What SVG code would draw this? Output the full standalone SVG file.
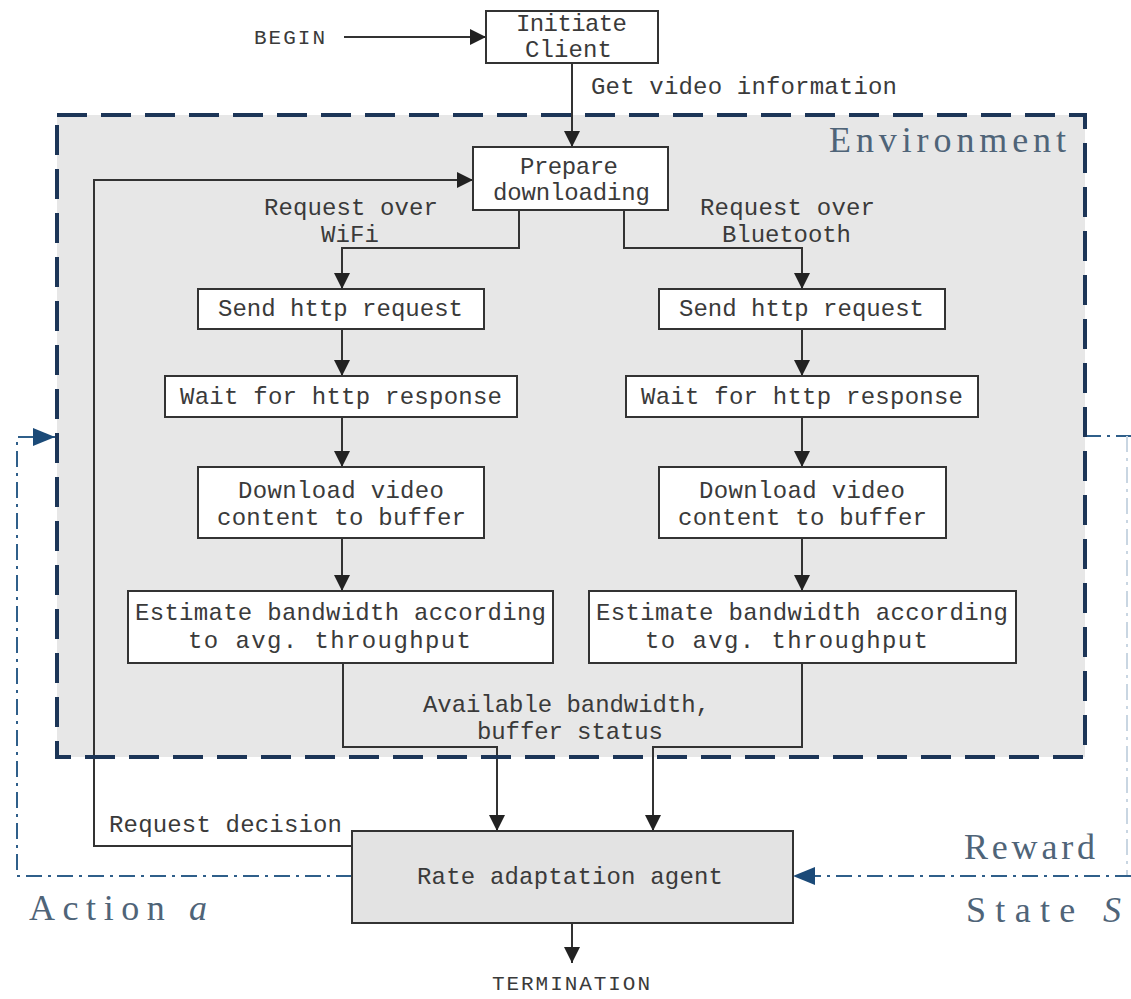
<svg xmlns="http://www.w3.org/2000/svg" width="1131" height="999" viewBox="0 0 1131 999">
<style>
.box{fill:#ffffff;stroke:#333333;stroke-width:2}
.agent{fill:#e3e3e3;stroke:#333333;stroke-width:2}
.t{font-family:"Liberation Mono",monospace;font-size:24px;fill:#3a3a3a}
.s{font-family:"Liberation Mono",monospace;font-size:21px;fill:#3a3a3a}
.big{font-family:"Liberation Serif",serif;font-size:36px;fill:#4f6478}
.ln{fill:none;stroke:#333333;stroke-width:2;marker-end:url(#ah)}
.dd{fill:none;stroke:#2f5f8a;stroke-width:2;stroke-dasharray:16 6 3 6}
</style>
<defs>
<marker id="ah" markerUnits="userSpaceOnUse" markerWidth="16" markerHeight="16" refX="16" refY="8" orient="auto">
<path d="M0,0 L16,8 L0,16 z" fill="#222222"/>
</marker>
<marker id="bh" markerUnits="userSpaceOnUse" markerWidth="22" markerHeight="18" refX="22" refY="9" orient="auto">
<path d="M0,0 L22,9 L0,18 z" fill="#1b4a78"/>
</marker>
</defs>
<rect width="1131" height="999" fill="#ffffff"/>
<g id="environment-fill">
<rect x="57" y="115" width="1028" height="642" fill="#e7e7e7"/>
</g>
<g id="connectors">
<line class="ln" x1="344" y1="37" x2="486" y2="37"/>
<line class="ln" x1="572" y1="63" x2="572" y2="147"/>
<path class="ln" d="M519,210 V248 H342 V289"/>
<path class="ln" d="M624,210 V248 H802 V289"/>
<line class="ln" x1="342" y1="329" x2="342" y2="376"/>
<line class="ln" x1="802" y1="329" x2="802" y2="376"/>
<line class="ln" x1="342" y1="417" x2="342" y2="467"/>
<line class="ln" x1="802" y1="417" x2="802" y2="467"/>
<line class="ln" x1="342" y1="538" x2="342" y2="591"/>
<line class="ln" x1="802" y1="538" x2="802" y2="591"/>
<path class="ln" d="M343,663 V747 H497 V831"/>
<path class="ln" d="M802,663 V747 H653 V831"/>
<line class="ln" x1="572" y1="923" x2="572" y2="963"/>
<path class="ln" d="M352,846 H94 V180 H473"/>
<path class="dd" d="M352,876 H17 V437 H55" marker-end="url(#bh)"/>
<path class="dd" d="M1085,436 H1131"/>
<path fill="none" stroke="#c9d6e2" stroke-width="2" stroke-dasharray="16 6 3 6" d="M1127,436 V876"/>
<path class="dd" d="M1131,876 H793" marker-end="url(#bh)"/>
</g>
<g id="environment-border">
<rect x="57" y="115" width="1028" height="642" fill="none" stroke="#1c3557" stroke-width="4" stroke-dasharray="30 14"/>
<text class="big" x="829" y="152" textLength="237" lengthAdjust="spacing">Environment</text>
</g>
<g id="begin">
<text class="s" x="254" y="44" textLength="71" lengthAdjust="spacing">BEGIN</text>
</g>
<g id="initiate-client">
<rect class="box" x="486" y="11" width="172" height="52"/>
<text class="t" x="516" y="31" textLength="111" lengthAdjust="spacing">Initiate</text>
<text class="t" x="525" y="57" textLength="87" lengthAdjust="spacing">Client</text>
</g>
<g id="label-get-video">
<text class="t" x="591" y="94" textLength="306" lengthAdjust="spacing">Get video information</text>
</g>
<g id="prepare-downloading">
<rect class="box" x="473" y="147" width="195" height="63"/>
<text class="t" x="520" y="174" textLength="98" lengthAdjust="spacing">Prepare</text>
<text class="t" x="493" y="200" textLength="157" lengthAdjust="spacing">downloading</text>
</g>
<g id="label-wifi">
<text class="t" x="264" y="215" textLength="174" lengthAdjust="spacing">Request over</text>
<text class="t" x="321" y="242" textLength="58" lengthAdjust="spacing">WiFi</text>
</g>
<g id="label-bluetooth">
<text class="t" x="700" y="215" textLength="175" lengthAdjust="spacing">Request over</text>
<text class="t" x="722" y="242" textLength="129" lengthAdjust="spacing">Bluetooth</text>
</g>
<g id="send-wifi">
<rect class="box" x="198" y="289" width="286" height="40"/>
<text class="t" x="218" y="316" textLength="245" lengthAdjust="spacing">Send http request</text>
</g>
<g id="send-bt">
<rect class="box" x="659" y="289" width="286" height="40"/>
<text class="t" x="679" y="316" textLength="245" lengthAdjust="spacing">Send http request</text>
</g>
<g id="wait-wifi">
<rect class="box" x="165" y="376" width="352" height="41"/>
<text class="t" x="180" y="404" textLength="322" lengthAdjust="spacing">Wait for http response</text>
</g>
<g id="wait-bt">
<rect class="box" x="626" y="376" width="352" height="41"/>
<text class="t" x="641" y="404" textLength="322" lengthAdjust="spacing">Wait for http response</text>
</g>
<g id="download-wifi">
<rect class="box" x="198" y="467" width="286" height="71"/>
<text class="t" x="238" y="498" textLength="206" lengthAdjust="spacing">Download video</text>
<text class="t" x="217" y="525" textLength="249" lengthAdjust="spacing">content to buffer</text>
</g>
<g id="download-bt">
<rect class="box" x="659" y="467" width="287" height="71"/>
<text class="t" x="699" y="498" textLength="206" lengthAdjust="spacing">Download video</text>
<text class="t" x="678" y="525" textLength="249" lengthAdjust="spacing">content to buffer</text>
</g>
<g id="estimate-wifi">
<rect class="box" x="128" y="591" width="425" height="72"/>
<text class="t" x="135" y="620" textLength="411" lengthAdjust="spacing">Estimate bandwidth according</text>
<text class="t" x="188" y="648" textLength="283" lengthAdjust="spacing">to avg. throughput</text>
</g>
<g id="estimate-bt">
<rect class="box" x="589" y="591" width="427" height="72"/>
<text class="t" x="596" y="620" textLength="412" lengthAdjust="spacing">Estimate bandwidth according</text>
<text class="t" x="645" y="648" textLength="283" lengthAdjust="spacing">to avg. throughput</text>
</g>
<g id="label-available">
<text class="t" x="423" y="712" textLength="287" lengthAdjust="spacing">Available bandwidth,</text>
<text class="t" x="477" y="739" textLength="186" lengthAdjust="spacing">buffer status</text>
</g>
<g id="label-request-decision">
<text class="t" x="109" y="832" textLength="233" lengthAdjust="spacing">Request decision</text>
</g>
<g id="rate-adaptation-agent">
<rect class="agent" x="352" y="831" width="441" height="92"/>
<text class="t" x="417" y="884" textLength="306" lengthAdjust="spacing">Rate adaptation agent</text>
</g>
<g id="termination">
<text class="s" x="492" y="990" textLength="158" lengthAdjust="spacing">TERMINATION</text>
</g>
<g id="label-reward">
<text class="big" x="964" y="859" textLength="131" lengthAdjust="spacing">Reward</text>
</g>
<g id="label-state">
<text class="big" x="966" y="922" textLength="155" lengthAdjust="spacing">State <tspan font-style="italic">S</tspan></text>
</g>
<g id="label-action">
<text class="big" x="29" y="920" textLength="178" lengthAdjust="spacing">Action <tspan font-style="italic">a</tspan></text>
</g>
</svg>
